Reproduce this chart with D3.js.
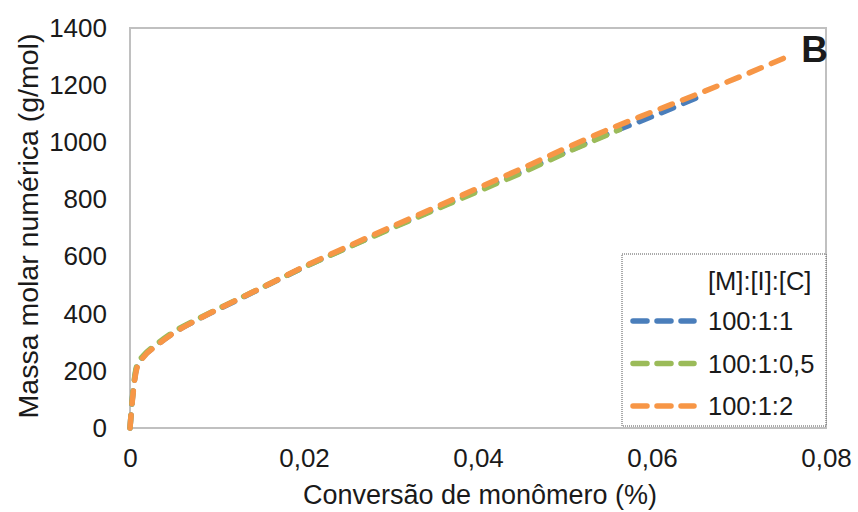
<!DOCTYPE html>
<html lang="pt">
<head>
<meta charset="UTF-8">
<title>Massa molar x conversão</title>
<script src="https://d3js.org/d3.v7.min.js"></script>
<style>
  body { margin: 0; background: #fff; }
  text { font-family: "Liberation Sans", Arial, sans-serif; fill: #1a1a1a; }
</style>
</head>
<body>
<script>
// series data (conversion, Mn)
const serieNames = ["100:1:1", "100:1:0,5", "100:1:2"];
const serieColors = ["#4A7EBB", "#9BBB59", "#F79646"];

const s100_1_1 = [[0,0],[0.0003,110],[0.0008,215],[0.0015,248],[0.003,288],[0.005,333],[0.008,383],[0.012,443],[0.016,503],[0.02,563],[0.025,632],[0.03,700],[0.035,765],[0.04,832],[0.045,897],[0.05,964],[0.055,1030],[0.06,1090],[0.0653,1158]];
const s100_1_05 = [[0,0],[0.0003,115],[0.0008,220],[0.0015,252],[0.003,292],[0.005,336],[0.008,385],[0.012,445],[0.016,504],[0.02,563],[0.025,631],[0.03,698],[0.035,763],[0.04,828],[0.045,893],[0.05,962],[0.0563,1045]];
const s100_1_2 = [[0,0],[0.0003,105],[0.0008,210],[0.0015,246],[0.003,287],[0.005,332],[0.008,383],[0.012,444],[0.016,504],[0.02,565],[0.025,635],[0.03,704],[0.035,771],[0.04,840],[0.045,908],[0.05,978],[0.055,1045],[0.06,1106],[0.065,1166],[0.07,1228],[0.0756,1300]];
const allSeries = [s100_1_1, s100_1_05, s100_1_2];

const xTicks = [0, 0.02, 0.04, 0.06, 0.08];
const yTicks = [0, 200, 400, 600, 800, 1000, 1200, 1400];

const W = 858, H = 512;
const m = {left: 130, right: 32, top: 28, bottom: 84};

const svg = d3.select("body").append("svg")
  .attr("width", W).attr("height", H);

const x = d3.scaleLinear().domain([0, 0.08]).range([m.left, W - m.right]);
const y = d3.scaleLinear().domain([0, 1400]).range([H - m.bottom, m.top]);

// plot frame
svg.append("rect")
  .attr("x", x(0)).attr("y", y(1400))
  .attr("width", x(0.08) - x(0)).attr("height", y(0) - y(1400))
  .attr("fill", "none").attr("stroke", "#c0c0c0").attr("stroke-width", 2);

// axes, labels only
const fmt = d => d === 0 ? "0" : d.toFixed(2).replace(".", ",");
const xAxis = svg.append("g")
  .attr("transform", "translate(0," + y(0) + ")")
  .call(d3.axisBottom(x).tickValues(xTicks).tickFormat(fmt).tickSize(0).tickPadding(21));
const yAxis = svg.append("g")
  .attr("transform", "translate(" + x(0) + ",0)")
  .call(d3.axisLeft(y).tickValues(yTicks).tickFormat(d3.format("d")).tickSize(0).tickPadding(23));
[xAxis, yAxis].forEach(a => {
  a.select(".domain").remove();
  a.selectAll("text").style("font-size", "26px").attr("fill", "#1a1a1a")
    .style("font-family", "'Liberation Sans', Arial, sans-serif");
});
xAxis.selectAll("text").attr("dy", "0.71em");

// axis titles
svg.append("text")
  .attr("x", 480).attr("y", 504)
  .attr("text-anchor", "middle").style("font-size", "27px")
  .text("Conversão de monômero (%)");
svg.append("text")
  .attr("transform", "translate(38,226) rotate(-90)")
  .attr("text-anchor", "middle").style("font-size", "28.5px")
  .text("Massa molar numérica (g/mol)");

// curves
const line = d3.line().x(d => x(d[0])).y(d => y(d[1])).curve(d3.curveMonotoneX);
allSeries.forEach((s, i) => {
  svg.append("path")
    .datum(s)
    .attr("d", line)
    .attr("fill", "none")
    .attr("stroke", serieColors[i])
    .attr("stroke-width", 5.5)
    .attr("stroke-linecap", "round")
    .attr("stroke-dasharray", "13,11");
});

// panel letter
svg.append("text")
  .attr("x", 828).attr("y", 62)
  .attr("text-anchor", "end")
  .style("font-size", "37px").style("font-weight", "bold")
  .text("B");

// legend
const lg = svg.append("g").attr("transform", "translate(622,254)");
lg.append("rect")
  .attr("width", 204).attr("height", 172)
  .attr("fill", "#fff").attr("stroke", "#555")
  .attr("stroke-width", 1).attr("stroke-dasharray", "1,1");
lg.append("text")
  .attr("x", 86).attr("y", 36)
  .style("font-size", "25.5px")
  .text("[M]:[I]:[C]");
serieNames.forEach((n, i) => {
  const yy = 67 + i * 42.5;
  lg.append("line")
    .attr("x1", 11).attr("x2", 72).attr("y1", yy).attr("y2", yy)
    .attr("stroke", serieColors[i]).attr("stroke-width", 5.5)
    .attr("stroke-linecap", "round").attr("stroke-dasharray", "14,10");
  lg.append("text")
    .attr("x", 86).attr("y", yy + 9)
    .style("font-size", "25.5px")
    .text(n);
});
</script>
</body>
</html>
